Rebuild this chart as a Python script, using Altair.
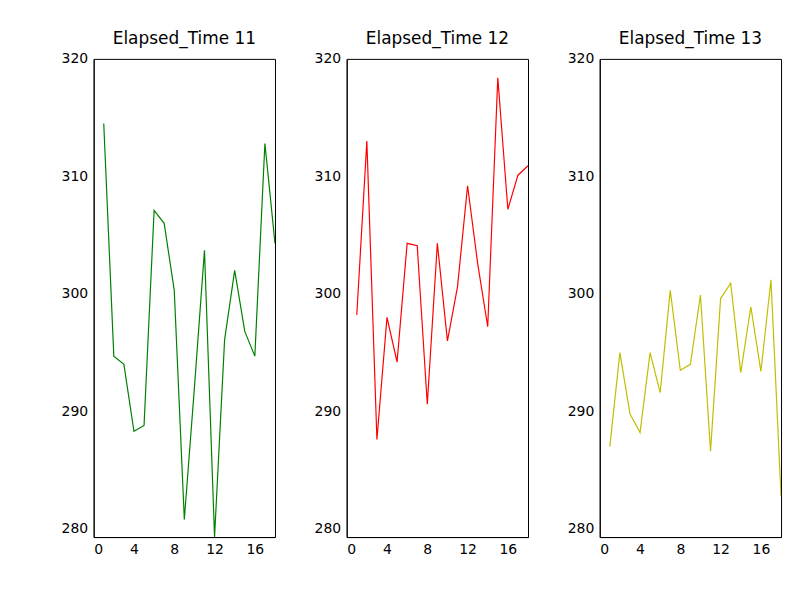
import altair as alt
import pandas as pd

steps = list(range(1, 19))
time_11 = [314.5, 294.7, 294.0, 288.3, 288.8, 307.1, 306.0, 300.3, 280.8, 292.0,
           303.7, 279.3, 296.1, 302.0, 296.8, 294.7, 312.8, 304.3]
time_12 = [298.2, 313.0, 287.6, 298.0, 294.2, 304.3, 304.1, 290.6, 304.3, 296.0,
           300.6, 309.2, 302.6, 297.2, 318.4, 307.2, 310.1, 310.9]
time_13 = [287.0, 295.0, 289.8, 288.2, 295.0, 291.6, 300.3, 293.5, 294.0, 299.9,
           286.6, 299.6, 300.9, 293.3, 298.9, 293.4, 301.2, 282.8]

series = [("Elapsed_Time 11", time_11, "green"),
          ("Elapsed_Time 12", time_12, "red"),
          ("Elapsed_Time 13", time_13, "#bfbf00")]


def panel(title, values, color):
    df = pd.DataFrame({"step": steps, "value": values})
    return alt.Chart(df, title=title).mark_line(color=color, clip=True, strokeWidth=1.2).encode(
        x=alt.X("step:Q", scale=alt.Scale(domain=[0, 18], nice=False),
                axis=alt.Axis(values=list(range(0, 19, 2)), title=None, grid=False,
                              tickSize=0, labelPadding=6)),
        y=alt.Y("value:Q", scale=alt.Scale(domain=[279.3, 320], nice=False, zero=False),
                axis=alt.Axis(values=[280, 290, 300, 310, 320], title=None, grid=False,
                              tickSize=0, labelPadding=6))
    ).properties(width=182, height=480)


chart = alt.hconcat(*[panel(t, v, c) for t, v, c in series], spacing=37).properties(
    padding={"left": 52, "top": 20, "right": 10, "bottom": 10}
).configure_view(stroke="black", strokeWidth=1).configure_axis(
    labelFont="DejaVu Sans", labelFontSize=14, labelColor="black",
    domainColor="black", tickColor="black"
).configure_title(font="DejaVu Sans", fontSize=17, fontWeight="normal", offset=4)

chart.save("out.html", embed_options={"renderer": "svg", "actions": False})
